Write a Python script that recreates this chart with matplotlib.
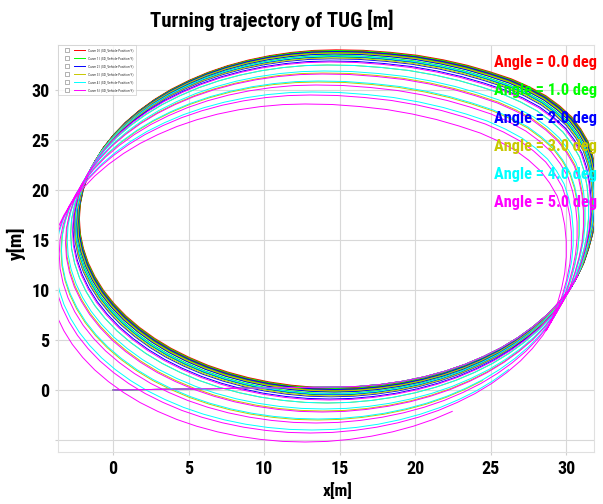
import matplotlib
matplotlib.use('Agg')
import matplotlib.pyplot as plt
from matplotlib import font_manager
from matplotlib.lines import Line2D
from matplotlib.legend_handler import HandlerTuple

# outer lap of the 0 deg run
# counter-clockwise in 5 deg steps, starting on the right side (-20 deg)
lap_x = [30.77, 31.22, 31.54, 31.80, 32.00, 32.10, 32.10, 32.00, 31.80, 31.50,
         31.00, 30.40, 29.60, 28.70, 27.60, 26.40, 25.00, 23.50, 21.90, 20.20,
         18.40, 16.60, 14.80, 13.32, 11.85, 10.40, 8.99, 7.62, 6.30, 5.05,
         3.87, 2.78, 1.78, 0.87, 0.08, -0.61, -1.17, -1.62, -1.94, -2.14,
         -2.20, -2.14, -1.94, -1.62, -1.17, -0.61, 0.08, 0.87, 1.78, 2.78,
         3.87, 5.05, 6.30, 7.62, 8.99, 10.40, 11.85, 13.32, 14.80, 16.28,
         17.75, 19.20, 20.61, 21.98, 23.30, 24.55, 25.73, 26.82, 27.82, 28.73,
         29.52, 30.21, 30.77]
lap_y = [11.42, 12.83, 14.27, 15.70, 17.20, 18.80, 20.40, 22.00, 23.50, 24.90,
         26.20, 27.40, 28.50, 29.50, 30.40, 31.20, 31.90, 32.55, 33.10, 33.55,
         33.85, 34.05, 34.10, 34.04, 33.84, 33.52, 33.08, 32.52, 31.84, 31.04,
         30.15, 29.15, 28.06, 26.89, 25.65, 24.34, 22.98, 21.57, 20.13, 18.67,
         17.20, 15.73, 14.27, 12.83, 11.42, 10.06, 8.75, 7.51, 6.34, 5.25,
         4.25, 3.36, 2.56, 1.88, 1.32, 0.88, 0.56, 0.36, 0.30, 0.36,
         0.56, 0.88, 1.32, 1.88, 2.56, 3.36, 4.25, 5.25, 6.34, 7.51,
         8.75, 10.06, 11.42]
bottom_idx = 58  # lowest point of the lap

start_x = [0.0]
start_y = [0.0]

angles = [0.0, 1.0, 2.0, 3.0, 4.0, 5.0]
colors = ['#ff0000', '#00ff00', '#0000ff', '#c8c800', '#00ffff', '#ff00ff']

# drift of every further lap (x, y) for each angle
shift_x_0 = [-0.03, -0.06, -0.09, -0.12, -0.15]
shift_y_0 = [-0.08, -0.16, -0.24, -0.32, -0.40]
shift_x_1 = [-0.05, -0.12, -0.18, -0.24, -0.30]
shift_y_1 = [-0.15, -0.32, -0.48, -0.64, -0.80]
shift_x_2 = [-0.09, -0.18, -0.27, -0.36, -0.45]
shift_y_2 = [-0.25, -0.50, -0.75, -0.98, -1.20]
shift_x_3 = [-0.15, -0.34, -0.61, -0.91, -1.25]
shift_y_3 = [-0.40, -0.90, -1.60, -2.40, -3.30]
shift_x_4 = [-0.27, -0.61, -0.84, -1.22, -1.63]
shift_y_4 = [-0.70, -1.60, -2.20, -3.20, -4.30]
shift_x_5 = [-0.49, -0.95, -1.37, -1.75, -2.09]
shift_y_5 = [-1.30, -2.50, -3.60, -4.60, -5.50]

shifts_x = [shift_x_0, shift_x_1, shift_x_2, shift_x_3, shift_x_4, shift_x_5]
shifts_y = [shift_y_0, shift_y_1, shift_y_2, shift_y_3, shift_y_4, shift_y_5]
end_idx = [72, 72, 72, 66, 68, 65]  # where the last lap stops

x_ticks = [0, 5, 10, 15, 20, 25, 30]
y_ticks = [-5, 0, 5, 10, 15, 20, 25, 30]

# narrow bold font if one is installed
names = {f.name for f in font_manager.fontManager.ttflist}
if 'Roboto Condensed' in names:
    plt.rcParams['font.family'] = ['Roboto Condensed', 'DejaVu Sans']
elif 'Liberation Sans Narrow' in names:
    plt.rcParams['font.family'] = ['Liberation Sans Narrow', 'DejaVu Sans']
else:
    plt.rcParams['font.family'] = ['DejaVu Sans']
    plt.rcParams['font.stretch'] = 'condensed'

fig = plt.figure(figsize=(6.03, 5.04), dpi=100)
ax = fig.add_axes([58 / 603, 1 - 452 / 504, (594 - 58) / 603, (452 - 45) / 504])

handles = []
for i in range(len(angles)):
    xs = start_x + lap_x[bottom_idx:]
    ys = start_y + lap_y[bottom_idx:]
    n = len(shifts_x[i])
    for k in range(n):
        stop = len(lap_x) if k < n - 1 else end_idx[i] + 1
        xs = xs + [v + shifts_x[i][k] for v in lap_x[:stop]]
        ys = ys + [v + shifts_y[i][k] for v in lap_y[:stop]]
    ln, = ax.plot(xs, ys, color=colors[i], lw=0.7)
    box = Line2D([], [], marker='s', ls='', ms=2.6, mfc='white', mec='#777777', mew=0.4)
    handles.append((box, ln))

ax.set_xlim(-3.65, 31.85)
ax.set_ylim(-6.2, 34.5)
ax.set_xticks(x_ticks)
ax.set_yticks(y_ticks)
ax.set_yticklabels(['' if t == -5 else str(t) for t in y_ticks])
ax.grid(True, color='#d8d8d8', lw=0.8)
ax.set_axisbelow(True)
for s in ax.spines.values():
    s.set_color('#e0e0e0')
    s.set_linewidth(0.8)
ax.tick_params(length=2, color='#d0d0d0', labelsize=13, pad=4)
for lab in ax.get_xticklabels() + ax.get_yticklabels():
    lab.set_fontweight('bold')

labels = [f'Curve {i} | (SD_Vehicle-Position-Y)' for i in range(len(angles))]
leg = ax.legend(handles, labels, loc='upper left', fontsize=2.5, frameon=True,
                fancybox=False, edgecolor='#cccccc', handlelength=7.0,
                handler_map={tuple: HandlerTuple(ndivide=None, pad=0.2)},
                borderpad=0.9, labelspacing=1.15, handletextpad=0.6,
                borderaxespad=0.0)
leg.get_frame().set_linewidth(0.6)
for t in leg.get_texts():
    t.set_color('#333333')

ann_y = [62, 90, 118, 146, 174, 202]
for i, a in enumerate(angles):
    fig.text(597 / 603, 1 - ann_y[i] / 504, f'Angle = {a:.1f} deg', color=colors[i],
             fontsize=11.8, fontweight='bold', ha='right', va='center')

fig.text(272 / 603, 1 - 20 / 504, 'Turning trajectory of TUG [m]', fontsize=15,
         fontweight='bold', ha='center', va='center')
fig.text(338 / 603, 1 - 491 / 504, 'x[m]', fontsize=12.5, fontweight='bold',
         ha='center', va='center')
fig.text(16 / 603, 1 - 243 / 504, 'y[m]', fontsize=14, fontweight='bold',
         ha='center', va='center', rotation=90)

fig.savefig('out.png', dpi=100)
